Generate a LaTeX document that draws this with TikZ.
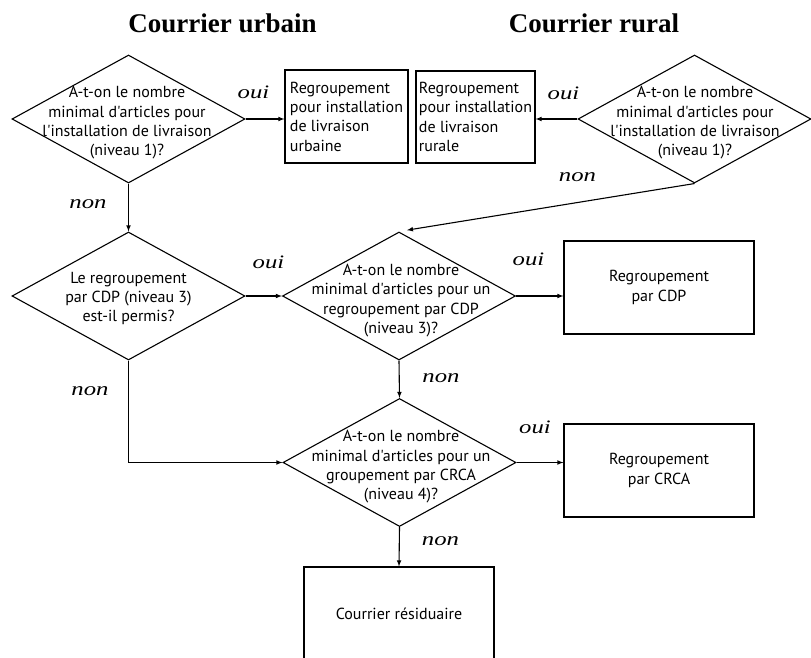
\documentclass[tikz,border=0pt]{standalone}
\usepackage{fontspec}
\setmainfont{Liberation Serif}
\setsansfont[Ligatures=TeXOff]{PT Sans}
\newfontfamily\yesnofont[FakeStretch=1.3]{Liberation Serif}
\usetikzlibrary{arrows}
\usetikzlibrary{shapes}

\begin{document}
\begin{tikzpicture}[x = 1pt, y = -1pt, font = \sffamily, line width = 1.1pt]
	\tikzstyle{titleStyle} = [font = \fontsize{27}{30}\selectfont\rmfamily\bfseries, inner sep = 0pt, anchor = base]
	\tikzstyle{questionStyle} = [shape = diamond, draw, minimum width = 233pt, minimum height = 128pt, inner sep = 0pt]
	\tikzstyle{questionText} = [align = center, font = \fontsize{16}{19.3}\selectfont\sffamily, inner sep = 0pt]
	\tikzstyle{actionStyle} = [shape = rectangle, draw, align = center, inner sep = 0pt, font = \fontsize{16}{19.3}\selectfont\sffamily]
	\tikzstyle{answerStyle} = [font = \fontsize{19}{22}\selectfont\yesnofont\itshape, inner sep = 0pt, anchor = base]
	\tikzstyle{flowStyle} = [-latex]
	\useasboundingbox (0,0) rectangle (811,658);
	\clip (0,0) rectangle (811,658);
	% titles
	\node[titleStyle] (tUrb) at (222.5,33) {Courrier urbain};
	\node[titleStyle] (tRur) at (594,33) {Courrier rural};
	% level 1
	\node[questionStyle] (qUrb) at (128.5,119) {};
	\node[questionText] (qUrbText) at (127,123) {A-t-on le nombre\\minimal d'articles pour\\l'installation de livraison\\(niveau 1)?};
	\node[actionStyle, align = left, minimum width = 123pt, minimum height = 93pt] (bUrb) at (346.5,116.5) {Regroupement\\pour installation\\de livraison\\urbaine};
	\node[actionStyle, align = left, minimum width = 119pt, minimum height = 92pt] (bRur) at (475.5,117) {Regroupement\\pour installation\\de livraison\\rurale};
	\node[questionStyle] (qRur) at (694.5,119) {};
	\node[questionText] (qRurText) at (695,123) {A-t-on le nombre\\minimal d'articles pour\\l'installation de livraison\\(niveau 1)?};
	% level 3
	\node[questionStyle] (qPerm) at (128.5,296) {};
	\node[questionText] (qPermText) at (128.5,298.5) {Le regroupement\\par CDP (niveau 3)\\est-il permis?};
	\node[questionStyle] (qCdp) at (399,296) {};
	\node[questionText] (qCdpText) at (401,300.5) {A-t-on le nombre\\minimal d'articles pour un\\regroupement par CDP\\(niveau 3)?};
	\node[actionStyle, minimum width = 190pt, minimum height = 93pt] (bCdp) at (659,287.5) {Regroupement\\par CDP};
	% level 4
	\node[questionStyle] (qCrca) at (399.5,462.5) {};
	\node[questionText] (qCrcaText) at (401,467) {A-t-on le nombre\\minimal d'articles pour un\\groupement par CRCA\\(niveau 4)?};
	\node[actionStyle, minimum width = 190pt, minimum height = 93pt] (bCrca) at (659,470.5) {Regroupement\\par CRCA};
	\node[actionStyle, minimum width = 190pt, minimum height = 93pt] (bRes) at (399,613.5) {Courrier résiduaire};
	% answers
	\node[answerStyle] (aUrbOui) at (253.5,99) {oui};
	\node[answerStyle] (aRurOui) at (563.5,100) {oui};
	\node[answerStyle] (aUrbNon) at (88,208) {non};
	\node[answerStyle] (aRurNon) at (577.5,181) {non};
	\node[answerStyle] (aPermOui) at (268.5,268) {oui};
	\node[answerStyle] (aPermNon) at (90,395) {non};
	\node[answerStyle] (aCdpOui) at (528.5,265) {oui};
	\node[answerStyle] (aCdpNon) at (441,382) {non};
	\node[answerStyle] (aCrcaOui) at (535,433) {oui};
	\node[answerStyle] (aCrcaNon) at (440.5,545) {non};
	% connectors
	\draw[flowStyle] (qUrb.east) -- (bUrb.west |- qUrb.east);
	\draw[flowStyle] (qRur.west) -- (bRur.east |- qRur.west);
	\draw[flowStyle] (qUrb.south) -- (qPerm.north);
	\draw[flowStyle, shorten >= 8pt] (qRur.south) -- (qCdp.north);
	\draw[flowStyle] (qPerm.east) -- (qCdp.west);
	\draw[flowStyle] (qCdp.east) -- (bCdp.west |- qCdp.east);
	\draw[flowStyle] (qCdp.south) -- (qCrca.north);
	\draw[flowStyle] (qPerm.south) |- (qCrca.west);
	\draw[flowStyle] (qCrca.east) -- (bCrca.west |- qCrca.east);
	\draw[flowStyle] (qCrca.south) -- (bRes.north);
\end{tikzpicture}
\end{document}
